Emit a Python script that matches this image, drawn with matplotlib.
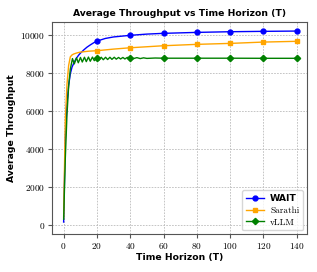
import matplotlib
matplotlib.use("Agg")
import matplotlib.pyplot as plt
from matplotlib.font_manager import FontProperties

plt.rcParams['font.family'] = ['cmr10', 'DejaVu Serif']
plt.rcParams['axes.formatter.use_mathtext'] = True

# ---- data ----
wait_T = [0, 1, 2, 3, 4, 5, 6, 7, 8, 9, 10, 12, 14, 16, 18, 20, 25, 30, 40, 50, 60, 80, 100, 120, 140]
wait_v = [150, 4500, 6400, 7350, 7950, 8300, 8500, 8680, 8820, 8940, 9040, 9210, 9360, 9480, 9590, 9680,
          9820, 9900, 9985, 10050, 10090, 10140, 10175, 10195, 10210]

sarathi_T = [0, 1, 2, 3, 4, 5, 6, 7, 8, 10, 12, 15, 20, 30, 40, 60, 80, 100, 120, 140]
sarathi_v = [400, 5500, 7400, 8400, 8850, 8950, 9000, 9030, 9060, 9100, 9120, 9150, 9175,
             9260, 9330, 9437, 9510, 9560, 9630, 9670]

vllm_T = [0, 1, 2, 3, 4, 5.3, 6.4, 7.7, 8.8, 10.1, 11.2, 12.5, 13.6, 14.9, 16.0, 17.3, 18.4, 20,
          21.2, 22.6, 23.8, 25.2, 26.4, 27.8, 29.0, 30.4, 31.6, 33.0, 34.2, 35.6, 36.8, 38.2, 40,
          42, 44, 46, 48, 50, 55, 60, 80, 100, 120, 140]
vllm_v = [300, 3500, 5800, 7300, 8200, 8760, 8480, 8800, 8540, 8820, 8580, 8830, 8600, 8840, 8620, 8840, 8650, 8800,
          8680, 8830, 8700, 8830, 8710, 8830, 8720, 8830, 8730, 8820, 8740, 8820, 8740, 8820, 8800,
          8760, 8810, 8760, 8800, 8770, 8790, 8780, 8780, 8780, 8775, 8775]

x_ticks = [0, 20, 40, 60, 80, 100, 120, 140]
y_ticks = [0, 2000, 4000, 6000, 8000, 10000]

series = [("WAIT", wait_T, wait_v, "blue", "o"),
          ("Sarathi", sarathi_T, sarathi_v, "orange", "s"),
          ("vLLM", vllm_T, vllm_v, "green", "D")]

fig = plt.figure(figsize=(3.17, 2.72), dpi=100)
ax = fig.add_axes([0.164, 0.139, 0.8035, 0.781])

fs = 6.7
for name, T, v, c, m in series:
    idx = [i for i, t in enumerate(T) if t > 0 and t % 20 == 0]
    ax.plot(T, v, color=c, marker=m, markevery=idx, markersize=3.5 if m != "D" else 3.2,
            linewidth=1.0, label=name)

ax.set_xlim(-7, 146)
ax.set_ylim(-490, 10700)
ax.set_xticks(x_ticks)
ax.set_yticks(y_ticks)
ax.tick_params(labelsize=fs, length=3, width=0.8, color="#555555", pad=2)
ax.grid(True, linestyle=(0, (2, 1.5)), color="#bbbbbb", linewidth=0.6)
for s in ax.spines.values():
    s.set_color("#555555")
    s.set_linewidth(0.8)

bold = dict(family="DejaVu Sans", fontweight="bold", fontsize=fs)
ax.set_title("Average Throughput vs Time Horizon (T)", pad=4, **bold)
ax.set_xlabel("Time Horizon (T)", labelpad=1, **bold)
ax.set_ylabel("Average Throughput", labelpad=3, **bold)

leg = ax.legend(loc="lower right", fontsize=fs, handlelength=2.0, borderpad=0.4,
                labelspacing=0.35, handletextpad=0.6, borderaxespad=0.4)
leg.get_texts()[0].set_fontproperties(FontProperties(family="DejaVu Sans", weight="bold", size=fs))

fig.savefig("out.png", dpi=100)
